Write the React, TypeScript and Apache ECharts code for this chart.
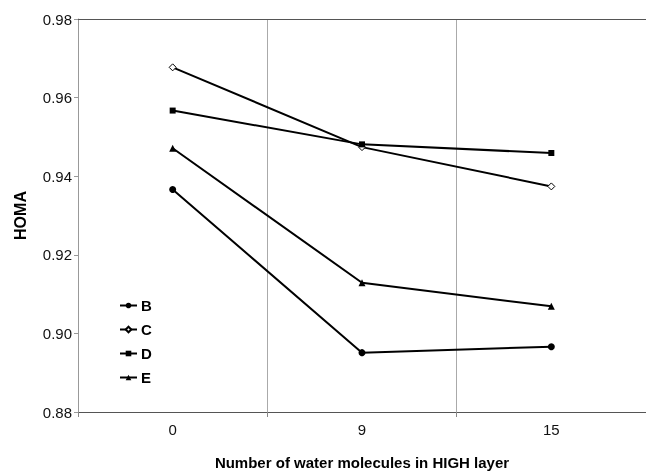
import React, { useEffect, useRef } from "react";
import * as echarts from "echarts";

const categories = ["0", "9", "15"];
const seriesB = [0.9366, 0.8951, 0.8966];
const seriesC = [0.9677, 0.9474, 0.9374];
const seriesD = [0.9567, 0.9481, 0.9459];
const seriesE = [0.9471, 0.9129, 0.9069];
const yTicks = { min: 0.88, max: 0.98, interval: 0.02 };

const FONT = "'Liberation Sans', Arial, sans-serif";

export default function App() {
  const ref = useRef<HTMLDivElement>(null);
  useEffect(() => {
    if (!ref.current) return;
    const chart = echarts.init(ref.current, null, { renderer: "svg" });
    const mk = (name: string, data: number[], symbol: string, size: number, fill: string) => ({
      name,
      type: "line",
      data,
      symbol,
      symbolSize: size,
      showAllSymbol: true,
      lineStyle: { color: "#000", width: 2 },
      itemStyle: { color: fill, borderColor: "#000", borderWidth: fill === "#fff" ? 1 : 0 },
      emphasis: { disabled: true },
    });
    chart.setOption({
      animation: false,
      textStyle: { fontFamily: FONT },
      grid: { left: 78, right: -4, top: 19, bottom: 51, containLabel: false },
      legend: {
        orient: "vertical",
        left: 114,
        top: 293,
        itemWidth: 17,
        itemHeight: 7,
        itemGap: 9,
        textStyle: { fontFamily: FONT, fontSize: 15, fontWeight: "bold", color: "#000", padding: [0, 0, 0, -1] },
        data: ["B", "C", "D", "E"],
      },
      xAxis: [
        {
          type: "category",
          data: categories,
          boundaryGap: true,
          axisLine: { lineStyle: { color: "#555", width: 1 } },
          axisTick: { show: true, length: 5, lineStyle: { color: "#888" } },
          axisLabel: { fontFamily: FONT, fontSize: 15, color: "#111", margin: 10 },
          splitLine: { show: true, lineStyle: { color: "#aaa", width: 1 } },
          name: "Number of water molecules in HIGH layer",
          nameLocation: "middle",
          nameGap: 43,
          nameTextStyle: { fontFamily: FONT, fontSize: 15, fontWeight: "bold", color: "#000" },
        },
        {
          type: "category",
          position: "top",
          data: categories,
          axisLine: { show: true, lineStyle: { color: "#555", width: 1 } },
          axisTick: { show: false },
          axisLabel: { show: false },
          splitLine: { show: false },
        },
      ],
      yAxis: {
        type: "value",
        min: yTicks.min,
        max: yTicks.max,
        interval: yTicks.interval,
        axisLine: { show: true, lineStyle: { color: "#999", width: 1 } },
        axisTick: { show: true, length: 4, lineStyle: { color: "#999" } },
        axisLabel: { fontFamily: FONT, fontSize: 15, color: "#111", margin: 6, formatter: (v: number) => v.toFixed(2) },
        splitLine: { show: false },
        name: "HOMA",
        nameLocation: "middle",
        nameGap: 50,
        nameTextStyle: { fontFamily: FONT, fontSize: 16, fontWeight: "bold", color: "#000" },
      },
      series: [
        mk("B", seriesB, "circle", 7, "#000"),
        mk("C", seriesC, "diamond", 7, "#fff"),
        mk("D", seriesD, "rect", 6, "#000"),
        mk("E", seriesE, "triangle", 7, "#000"),
      ],
    });
    return () => chart.dispose();
  }, []);
  return <div ref={ref} style={{ position: "fixed", left: 0, top: 0, width: 646, height: 475 }} />;
}
